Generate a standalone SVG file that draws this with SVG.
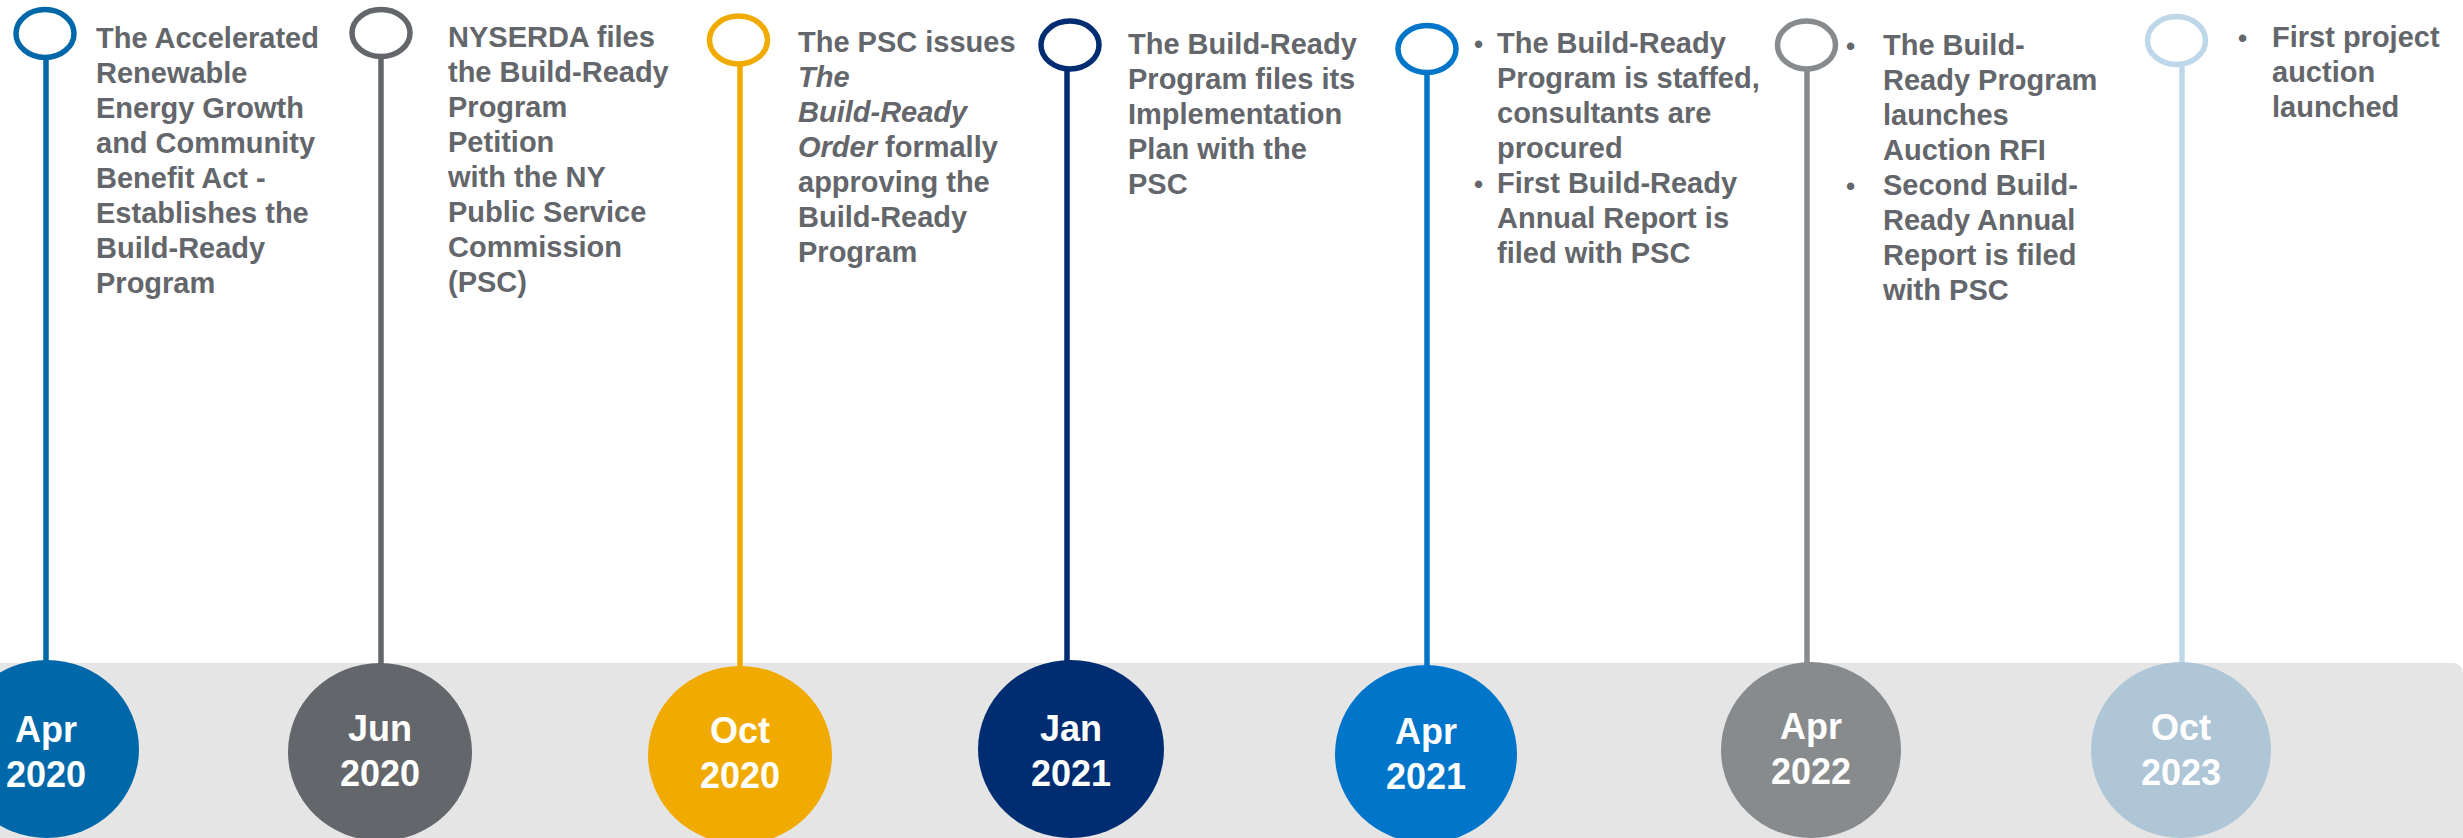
<svg xmlns="http://www.w3.org/2000/svg" width="2463" height="838" viewBox="0 0 2463 838">
  <style>
    .desc { font-family: "Liberation Sans", Arial, sans-serif; font-weight: bold; font-size: 29px; fill: #63666A; }
    .desc .it { font-style: italic; }
    .bul { font-family: "Liberation Sans", Arial, sans-serif; font-weight: bold; font-size: 26px; fill: #63666A; }
    .date { font-family: "Liberation Sans", Arial, sans-serif; font-weight: bold; font-size: 36px; fill: #FFFFFF; text-anchor: middle; }
    .ring { fill: none; stroke-width: 5.5; }
    .stem { stroke-width: 5.5; fill: none; }
  </style>

  <!-- white page and the grey timeline band -->
  <rect x="0" y="0" width="2463" height="838" fill="#FFFFFF"/>
  <rect id="band" x="-20" y="663" width="2483" height="200" rx="10" ry="10" fill="#E5E5E5"/>

  <!-- vertical stems joining each ring to its date disc -->
  <g id="connectors">
    <line class="stem" x1="46" y1="57" x2="46" y2="662" stroke="#0068A8"/>
    <line class="stem" x1="381" y1="57" x2="381" y2="665" stroke="#63666A"/>
    <line class="stem" x1="740" y1="64" x2="740" y2="668" stroke="#F1AB00"/>
    <line class="stem" x1="1067" y1="69" x2="1067" y2="662" stroke="#002D72"/>
    <line class="stem" x1="1427" y1="72" x2="1427" y2="667" stroke="#0075C9"/>
    <line class="stem" x1="1807" y1="69" x2="1807" y2="663" stroke="#888B8D"/>
    <line class="stem" x1="2182" y1="64" x2="2182" y2="663" stroke="#BFD8E9"/>
  </g>

  <!-- Apr 2020 -->
  <g id="m-apr-2020">
    <ellipse class="ring" cx="45" cy="33.5" rx="29" ry="24" stroke="#0068A8"/>
    <ellipse cx="47" cy="749" rx="92" ry="89" fill="#0068A8"/>
    <text class="date" x="46" y="742">Apr</text>
    <text class="date" x="46" y="787">2020</text>
    <text class="desc">
      <tspan x="96" y="48">The Accelerated</tspan>
      <tspan x="96" y="83">Renewable</tspan>
      <tspan x="96" y="118">Energy Growth</tspan>
      <tspan x="96" y="153">and Community</tspan>
      <tspan x="96" y="188">Benefit Act -</tspan>
      <tspan x="96" y="223">Establishes the</tspan>
      <tspan x="96" y="258">Build-Ready</tspan>
      <tspan x="96" y="293">Program</tspan>
    </text>
  </g>

  <!-- Jun 2020 -->
  <g id="m-jun-2020">
    <ellipse class="ring" cx="381" cy="33" rx="29" ry="23.5" stroke="#63666A"/>
    <ellipse cx="380" cy="752" rx="92" ry="89" fill="#63666A"/>
    <text class="date" x="380" y="741">Jun</text>
    <text class="date" x="380" y="786">2020</text>
    <text class="desc">
      <tspan x="448" y="47">NYSERDA files</tspan>
      <tspan x="448" y="82">the Build-Ready</tspan>
      <tspan x="448" y="117">Program</tspan>
      <tspan x="448" y="152">Petition</tspan>
      <tspan x="448" y="187">with the NY</tspan>
      <tspan x="448" y="222">Public Service</tspan>
      <tspan x="448" y="257">Commission</tspan>
      <tspan x="448" y="292">(PSC)</tspan>
    </text>
  </g>

  <!-- Oct 2020 -->
  <g id="m-oct-2020">
    <ellipse class="ring" cx="738.5" cy="40" rx="29" ry="24" stroke="#F1AB00"/>
    <ellipse cx="740" cy="755" rx="92" ry="89" fill="#F1AB00"/>
    <text class="date" x="740" y="743">Oct</text>
    <text class="date" x="740" y="788">2020</text>
    <text class="desc">
      <tspan x="798" y="52">The PSC issues</tspan>
      <tspan x="798" y="87" class="it">The</tspan>
      <tspan x="798" y="122" class="it">Build-Ready</tspan>
      <tspan x="798" y="157" class="it">Order</tspan><tspan> formally</tspan>
      <tspan x="798" y="192">approving the</tspan>
      <tspan x="798" y="227">Build-Ready</tspan>
      <tspan x="798" y="262">Program</tspan>
    </text>
  </g>

  <!-- Jan 2021 -->
  <g id="m-jan-2021">
    <ellipse class="ring" cx="1070" cy="45" rx="29" ry="24" stroke="#002D72"/>
    <ellipse cx="1071" cy="749" rx="93" ry="89" fill="#002D72"/>
    <text class="date" x="1071" y="741">Jan</text>
    <text class="date" x="1071" y="786">2021</text>
    <text class="desc">
      <tspan x="1128" y="54">The Build-Ready</tspan>
      <tspan x="1128" y="89">Program files its</tspan>
      <tspan x="1128" y="124">Implementation</tspan>
      <tspan x="1128" y="159">Plan with the</tspan>
      <tspan x="1128" y="194">PSC</tspan>
    </text>
  </g>

  <!-- Apr 2021 -->
  <g id="m-apr-2021">
    <ellipse class="ring" cx="1427" cy="49" rx="29" ry="23.5" stroke="#0075C9"/>
    <ellipse cx="1426" cy="754" rx="91" ry="89" fill="#0075C9"/>
    <text class="date" x="1426" y="744">Apr</text>
    <text class="date" x="1426" y="789">2021</text>
    <text class="bul" x="1474" y="53">•</text>
    <text class="bul" x="1474" y="193">•</text>
    <text class="desc">
      <tspan x="1497" y="53">The Build-Ready</tspan>
      <tspan x="1497" y="88">Program is staffed,</tspan>
      <tspan x="1497" y="123">consultants are</tspan>
      <tspan x="1497" y="158">procured</tspan>
      <tspan x="1497" y="193">First Build-Ready</tspan>
      <tspan x="1497" y="228">Annual Report is</tspan>
      <tspan x="1497" y="263">filed with PSC</tspan>
    </text>
  </g>

  <!-- Apr 2022 -->
  <g id="m-apr-2022">
    <ellipse class="ring" cx="1806.5" cy="45" rx="29" ry="24" stroke="#888B8D"/>
    <ellipse cx="1811" cy="750" rx="90" ry="88" fill="#888B8D"/>
    <text class="date" x="1811" y="739">Apr</text>
    <text class="date" x="1811" y="784">2022</text>
    <text class="bul" x="1846" y="55">•</text>
    <text class="bul" x="1846" y="195">•</text>
    <text class="desc">
      <tspan x="1883" y="55">The Build-</tspan>
      <tspan x="1883" y="90">Ready Program</tspan>
      <tspan x="1883" y="125">launches</tspan>
      <tspan x="1883" y="160">Auction RFI</tspan>
      <tspan x="1883" y="195">Second Build-</tspan>
      <tspan x="1883" y="230">Ready Annual</tspan>
      <tspan x="1883" y="265">Report is filed</tspan>
      <tspan x="1883" y="300">with PSC</tspan>
    </text>
  </g>

  <!-- Oct 2023 -->
  <g id="m-oct-2023">
    <ellipse class="ring" cx="2176.5" cy="40.5" rx="29" ry="24" stroke="#BFD8E9"/>
    <ellipse cx="2181" cy="750" rx="90" ry="88" fill="#AFC6D7"/>
    <text class="date" x="2181" y="740">Oct</text>
    <text class="date" x="2181" y="785">2023</text>
    <text class="bul" x="2238" y="47">•</text>
    <text class="desc">
      <tspan x="2272" y="47">First project</tspan>
      <tspan x="2272" y="82">auction</tspan>
      <tspan x="2272" y="117">launched</tspan>
    </text>
  </g>
</svg>
